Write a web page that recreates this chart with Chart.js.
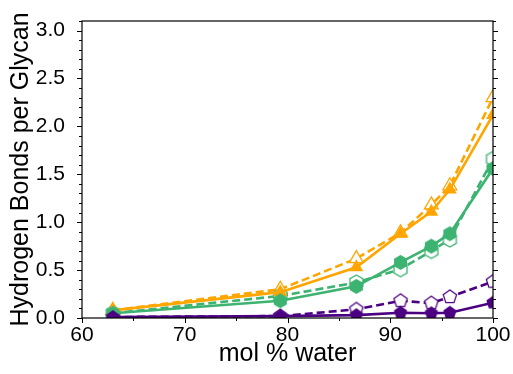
<!DOCTYPE html>
<html>
<head>
<meta charset="utf-8">
<script src="https://cdn.jsdelivr.net/npm/chart.js@4.4.0/dist/chart.umd.min.js"></script>
<style>
    html, body { margin: 0; padding: 0; background: #fff; }
</style>
</head>
<body>
<canvas id="myChart" width="513" height="374"></canvas>
<script>
// data
const molWater = [63, 79.3, 86.7, 91, 94, 95.8, 100];
const orangeSolid = [0.08, 0.27, 0.53, 0.88, 1.11, 1.34, 2.12];
const orangeDashed = [0.08, 0.30, 0.62, 0.89, 1.18, 1.38, 2.30];
const greenSolid = [0.05, 0.18, 0.33, 0.58, 0.75, 0.88, 1.56];
const greenDashed = [0.05, 0.23, 0.37, 0.51, 0.70, 0.82, 1.66];
const purpleSolid = [0.01, 0.02, 0.03, 0.055, 0.05, 0.055, 0.16];
const purpleDashed = [0.01, 0.02, 0.09, 0.18, 0.155, 0.22, 0.38];

const xTickStep = 10;
const yTickStep = 0.5;

const ORANGE = '#FFA500';
const GREEN = '#3CB371';
const PURPLE = '#4B0082';
const FONT = 'Liberation Sans, Arial, sans-serif';

// polygon marker as a small canvas (pentagon, hexagon)
function makeMarker(sides, r, color, filled) {
    const size = Math.ceil(r * 2 + 4);
    const c = document.createElement('canvas');
    c.width = size;
    c.height = size;
    const g = c.getContext('2d');
    g.beginPath();
    for (let i = 0; i < sides; i++) {
        const a = -Math.PI / 2 + i * 2 * Math.PI / sides;
        const px = size / 2 + r * Math.cos(a);
        const py = size / 2 + r * Math.sin(a);
        if (i === 0) g.moveTo(px, py); else g.lineTo(px, py);
    }
    g.closePath();
    if (filled) {
        g.fillStyle = color;
        g.fill();
    } else {
        g.fillStyle = '#fff';
        g.fill();
        g.lineWidth = 1.3;
        g.strokeStyle = color;
        g.stroke();
    }
    return c;
}

function series(values) {
    return values.map((v, i) => ({x: molWater[i], y: v}));
}

function lineSet(values, color, dashed, style, filled) {
    return {
        data: series(values),
        borderColor: color,
        borderWidth: 2.6,
        borderDash: dashed ? [8, 4] : [],
        pointStyle: style,
        pointRadius: 8,
        pointBackgroundColor: filled ? color : '#fff',
        pointBorderColor: color,
        pointBorderWidth: filled ? 0 : 1.3,
        tension: 0
    };
}

// box frame with outward tick marks (major + minor)
const frameTicks = {
    id: 'frameTicks',
    afterDraw(chart) {
        const {ctx, chartArea: a, scales: {x, y}} = chart;
        ctx.save();
        ctx.strokeStyle = '#000';
        ctx.lineWidth = 1.2;
        ctx.strokeRect(a.left, a.top, a.right - a.left, a.bottom - a.top);
        ctx.lineWidth = 1;
        ctx.beginPath();
        for (let i = 0; i <= 31; i++) {
            const py = Math.round(y.getPixelForValue(i / 10)) + 0.5;
            const len = i % 5 === 0 ? 5 : 3;
            ctx.moveTo(a.left, py); ctx.lineTo(a.left - len, py);
            ctx.moveTo(a.right, py); ctx.lineTo(a.right + len, py);
        }
        for (let v = 60; v <= 100; v += 5) {
            const px = Math.round(x.getPixelForValue(v)) + 0.5;
            const len = v % 10 === 0 ? 5 : 3;
            ctx.moveTo(px, a.bottom); ctx.lineTo(px, a.bottom + len);
        }
        ctx.stroke();
        ctx.restore();
    }
};

const ctx = document.getElementById('myChart').getContext('2d');
const myChart = new Chart(ctx, {
    type: 'line',
    data: {
        datasets: [
            lineSet(purpleSolid, PURPLE, false, makeMarker(5, 7, PURPLE, true), true),
            lineSet(greenSolid, GREEN, false, makeMarker(6, 7.5, GREEN, true), true),
            lineSet(orangeSolid, ORANGE, false, 'triangle', true),
            lineSet(purpleDashed, PURPLE, true, makeMarker(5, 7, PURPLE, false), false),
            lineSet(greenDashed, GREEN, true, makeMarker(6, 7.5, GREEN, false), false),
            lineSet(orangeDashed, ORANGE, true, 'triangle', false)
        ]
    },
    options: {
        responsive: false,
        animation: false,
        layout: { padding: { top: 21, right: 20, left: 0, bottom: 0 } },
        plugins: { legend: { display: false }, tooltip: { enabled: false } },
        scales: {
            x: {
                type: 'linear',
                min: 60,
                max: 100,
                grid: { display: false },
                border: { display: false },
                ticks: { stepSize: xTickStep, color: '#000', padding: -3, font: { family: FONT, size: 21 } },
                title: { display: true, text: 'mol % water', color: '#000', padding: { top: 0, bottom: 5 }, font: { family: FONT, size: 25 } },
                afterFit: s => { s.height = 56; s.paddingLeft = 0; s.paddingRight = 0; }
            },
            y: {
                min: 0,
                max: 3.1,
                grid: { display: false },
                border: { display: false },
                ticks: {
                    stepSize: yTickStep,
                    includeBounds: false,
                    color: '#000',
                    padding: 9,
                    font: { family: FONT, size: 21 },
                    callback: v => v.toFixed(1)
                },
                title: { display: true, text: 'Hydrogen Bonds per Glycan', color: '#000', padding: { top: 6, bottom: 0 }, font: { family: FONT, size: 25 } },
                afterFit: s => { s.width = 82; s.paddingTop = 0; s.paddingBottom = 0; }
            }
        }
    },
    plugins: [frameTicks]
});
</script>
</body>
</html>
